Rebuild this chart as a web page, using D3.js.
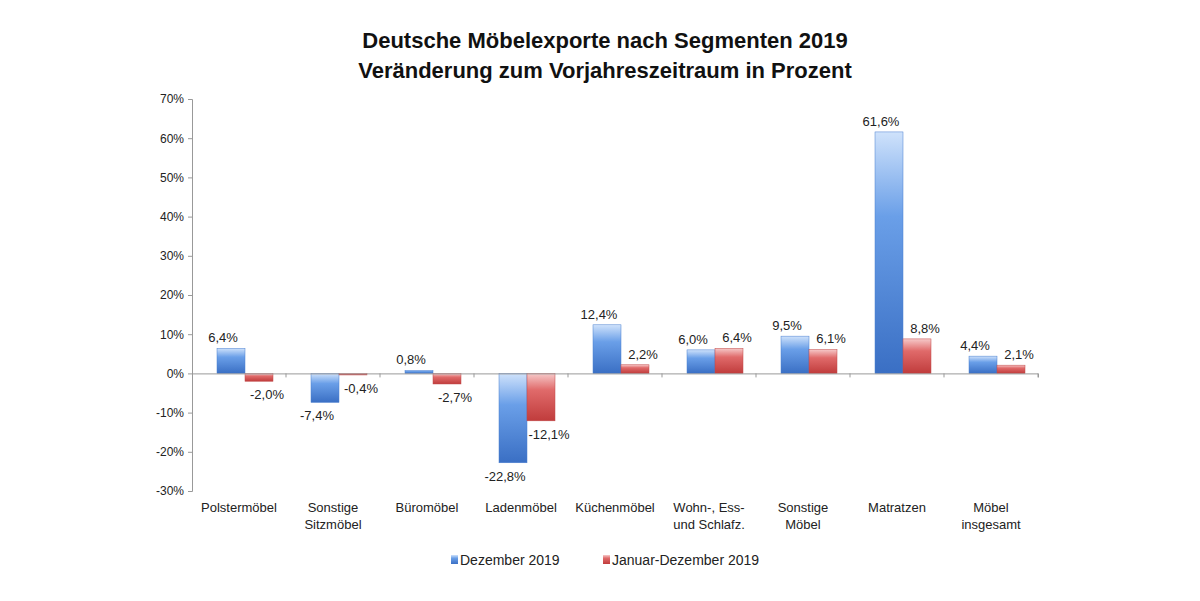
<!DOCTYPE html>
<html><head><meta charset="utf-8">
<script src="https://cdn.jsdelivr.net/npm/d3@7"></script>
<style>body{margin:0;background:#fff}text{font-family:Arial,"Liberation Sans",sans-serif}</style>
</head><body>
<script>
// Kategorien und Werte
var categories = ["Polstermöbel", "Sonstige\nSitzmöbel", "Büromöbel", "Ladenmöbel", "Küchenmöbel", "Wohn-, Ess-\nund Schlafz.", "Sonstige\nMöbel", "Matratzen", "Möbel\ninsgesamt"];
var dezember = [6.4, -7.4, 0.8, -22.8, 12.4, 6.0, 9.5, 61.6, 4.4];
var janDez = [-2.0, -0.4, -2.7, -12.1, 2.2, 6.4, 6.1, 8.8, 2.1];
var yTicks = [-30, -20, -10, 0, 10, 20, 30, 40, 50, 60, 70];

var width = 1200, height = 601;
var svg = d3.select("body").append("svg").attr("width", width).attr("height", height);

var defs = svg.append("defs");
function grad(id, light, mid, dark) {
  var g = defs.append("linearGradient").attr("id", id).attr("x1", 0).attr("x2", 0).attr("y1", 0).attr("y2", 1);
  g.append("stop").attr("offset", "0%").attr("stop-color", light);
  g.append("stop").attr("offset", "35%").attr("stop-color", mid);
  g.append("stop").attr("offset", "100%").attr("stop-color", dark);
}
grad("gBlue", "#cfe2fb", "#6a9fe8", "#3a6fc4");
grad("gRed", "#f6c9c9", "#e06a6a", "#c03c3c");

var x = d3.scaleBand().domain(d3.range(categories.length)).range([192, 1038]);
var y = d3.scaleLinear().domain([-30, 70]).range([491, 99]);

// Titel
svg.append("text").attr("x", 605).attr("y", 48).attr("text-anchor", "middle")
  .attr("font-size", 22).attr("font-weight", "bold").attr("fill", "#111")
  .text("Deutsche Möbelexporte nach Segmenten 2019");
svg.append("text").attr("x", 605).attr("y", 78).attr("text-anchor", "middle")
  .attr("font-size", 22).attr("font-weight", "bold").attr("fill", "#111")
  .text("Veränderung zum Vorjahreszeitraum in Prozent");

// y-Achse
var yAxis = d3.axisLeft(y).tickValues(yTicks).tickSize(4).tickFormat(function(d){ return d + "%"; });
var ya = svg.append("g").attr("transform", "translate(192,0)").call(yAxis);
ya.select(".domain").attr("stroke", "#999");
ya.selectAll(".tick line").attr("stroke", "#999");
ya.selectAll(".tick text").attr("font-size", 12).attr("fill", "#222").attr("x", -8);

var bw = 28;
function fmt(v){ return d3.format(".1f")(v).replace(".", ",").replace("\u2212", "-") + "%"; }
var g = svg.append("g");
categories.forEach(function(c, i) {
  var cx = x(i) + x.bandwidth() / 2 + 6;
  var b = dezember[i], r = janDez[i];
  g.append("rect").attr("x", cx - bw).attr("width", bw)
    .attr("y", y(Math.max(0, b))).attr("height", Math.abs(y(b) - y(0)))
    .attr("fill", "url(#gBlue)").attr("stroke", "#4a7fd0").attr("stroke-width", 0.5);
  g.append("rect").attr("x", cx).attr("width", bw)
    .attr("y", y(Math.max(0, r))).attr("height", Math.abs(y(r) - y(0)))
    .attr("fill", "url(#gRed)").attr("stroke", "#c04848").attr("stroke-width", 0.5);
  g.append("text").attr("x", cx - bw / 2 - 8).attr("y", b >= 0 ? y(b) - 6 : y(b) + 18)
    .attr("text-anchor", "middle").attr("font-size", 13).attr("fill", "#222").text(fmt(b));
  g.append("text").attr("x", cx + bw / 2 + 8).attr("y", r >= 0 ? y(r) - 6 : y(r) + 18)
    .attr("text-anchor", "middle").attr("font-size", 13).attr("fill", "#222").text(fmt(r));
});

// x-Achse (Nulllinie)
var xa = svg.append("g").attr("transform", "translate(0," + y(0) + ")")
  .call(d3.axisBottom(x).tickSize(4).tickFormat(""));
xa.select(".domain").attr("stroke", "#999");
xa.selectAll(".tick line").attr("stroke", "#999").attr("transform", "translate(" + (x.bandwidth() / 2) + ",0)");

// Kategorienbeschriftung
categories.forEach(function(c, i) {
  var t = svg.append("text").attr("x", x(i) + x.bandwidth() / 2).attr("y", 512)
    .attr("text-anchor", "middle").attr("font-size", 13).attr("fill", "#222");
  c.split("\n").forEach(function(l, k) {
    t.append("tspan").attr("x", x(i) + x.bandwidth() / 2).attr("dy", k ? 17 : 0).text(l);
  });
});

// Legende
svg.append("rect").attr("x", 451).attr("y", 555).attr("width", 7).attr("height", 9).attr("fill", "url(#gBlue)");
svg.append("text").attr("x", 460).attr("y", 565).attr("font-size", 14).attr("fill", "#222").text("Dezember 2019");
svg.append("rect").attr("x", 603).attr("y", 555).attr("width", 7).attr("height", 9).attr("fill", "url(#gRed)");
svg.append("text").attr("x", 612).attr("y", 565).attr("font-size", 14).attr("fill", "#222").text("Januar-Dezember 2019");
</script>
</body></html>
